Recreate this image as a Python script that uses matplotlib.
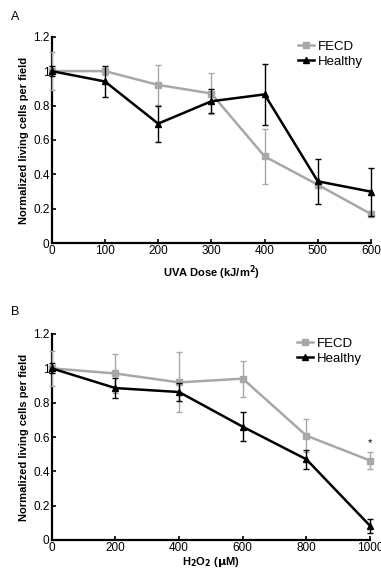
import matplotlib
matplotlib.use("Agg")
import matplotlib.pyplot as plt
from matplotlib.lines import Line2D

plt.rcParams['font.family'] = ['Liberation Sans', 'DejaVu Sans']

# Panel A data
uva_dose = [0, 100, 200, 300, 400, 500, 600]
a_fecd = [1.0, 1.0, 0.92, 0.87, 0.505, 0.34, 0.17]
a_fecd_err = [0.11, 0.02, 0.115, 0.12, 0.16, 0.02, 0.02]
a_healthy = [1.0, 0.94, 0.695, 0.825, 0.865, 0.36, 0.30]
a_healthy_err = [0.03, 0.09, 0.105, 0.07, 0.175, 0.13, 0.14]

# Panel B data
h2o2 = [0, 200, 400, 600, 800, 1000]
b_fecd = [1.0, 0.97, 0.918, 0.94, 0.608, 0.463]
b_fecd_err = [0.1, 0.115, 0.175, 0.105, 0.095, 0.05]
b_healthy = [1.0, 0.885, 0.862, 0.66, 0.47, 0.083]
b_healthy_err = [0.03, 0.06, 0.05, 0.085, 0.055, 0.04]

yticks = [0, 0.2, 0.4, 0.6, 0.8, 1.0, 1.2]
ytick_labels = ['0', '0.2', '0.4', '0.6', '0.8', '1', '1.2']

W, H = 381, 574
fig = plt.figure(figsize=(W / 100, H / 100), dpi=100)

GRAY = '#a8a8a8'

def make_ax(left, right, top, bottom):
    return fig.add_axes([left / W, 1 - bottom / H, (right - left) / W, (bottom - top) / H])

def style(ax, xticks, xlabel, xpad):
    for s in ['top', 'right']:
        ax.spines[s].set_visible(False)
    for s in ['left', 'bottom']:
        ax.spines[s].set_linewidth(1.6)
    ax.set_ylim(0, 1.2)
    ax.set_yticks(yticks)
    ax.set_yticklabels(ytick_labels)
    ax.set_xticks(xticks)
    ax.set_xlim(xticks[0], xticks[-1])
    ax.tick_params(direction='in', length=3, width=1.2, labelsize=8.5, pad=1.5)
    ax.set_ylabel('Normalized living cells per field', fontsize=8, fontweight='bold', labelpad=3)
    ax.set_xlabel(xlabel, fontsize=8, fontweight='bold', labelpad=xpad)

def plot_series(ax, x, fy, fe, hy, he):
    ax.errorbar(x, fy, yerr=fe, color=GRAY, ecolor=GRAY, lw=1.8, elinewidth=1.0,
                capsize=2, capthick=1.0, marker='s', markersize=5, clip_on=False, zorder=3)
    ax.errorbar(x, hy, yerr=he, color='black', ecolor='black', lw=1.8, elinewidth=1.0,
                capsize=2, capthick=1.0, marker='^', markersize=4.5, clip_on=False, zorder=4)
    handles = [Line2D([], [], color=GRAY, lw=1.8, marker='s', markersize=5),
               Line2D([], [], color='black', lw=1.8, marker='^', markersize=4.5)]
    ax.legend(handles, ['FECD', 'Healthy'], loc='upper right', bbox_to_anchor=(1.0, 1.02),
              frameon=False, fontsize=9.5, handlelength=1.2, handletextpad=0.3,
              labelspacing=0.2, borderaxespad=0.2)

axA = make_ax(51.7, 371, 36.7, 243.3)
plot_series(axA, uva_dose, a_fecd, a_fecd_err, a_healthy, a_healthy_err)
style(axA, uva_dose, 'UVA Dose (kJ/m$^\\mathbf{2}$)', 4)

axB = make_ax(51.7, 370, 334, 540)
plot_series(axB, h2o2, b_fecd, b_fecd_err, b_healthy, b_healthy_err)
style(axB, h2o2, 'H$_\\mathbf{2}$O$_\\mathbf{2}$ ($\\mathbf{\\mu}$M)', 1)
axB.text(h2o2[-1], b_fecd[-1] + b_fecd_err[-1] + 0.02, '*', ha='center', va='bottom', fontsize=8)

fig.text(15 / W, 1 - 17 / H, 'A', fontsize=9, ha='center', va='center')
fig.text(15 / W, 1 - 312 / H, 'B', fontsize=9, ha='center', va='center')

fig.savefig('out.png', dpi=100)
